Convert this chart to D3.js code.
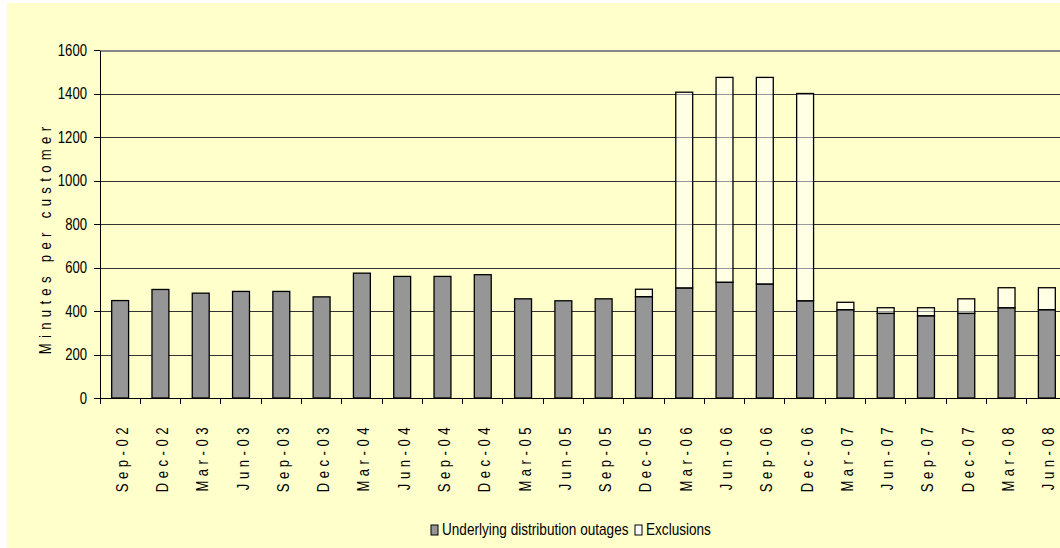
<!DOCTYPE html>
<html>
<head>
<meta charset="utf-8">
<script src="https://cdnjs.cloudflare.com/ajax/libs/d3/7.8.5/d3.min.js"></script>
<style>
    body { margin: 0; background: #fff; }
    svg text { font-family: "Liberation Sans Narrow", "Arial Narrow", "Liberation Sans", sans-serif; fill: #000; }
    .grid line { stroke: #333; stroke-width: 1; shape-rendering: crispEdges; }
    .grid path { stroke: none; }
    .axis path, .axis line { stroke: #000; shape-rendering: crispEdges; }
</style>
</head>
<body>
<div id="drawingArea"></div>
<script>
// quarter labels
var categories = ["Sep-02", "Dec-02", "Mar-03", "Jun-03", "Sep-03", "Dec-03", "Mar-04", "Jun-04",
    "Sep-04", "Dec-04", "Mar-05", "Jun-05", "Sep-05", "Dec-05", "Mar-06", "Jun-06",
    "Sep-06", "Dec-06", "Mar-07", "Jun-07", "Sep-07", "Dec-07", "Mar-08", "Jun-08"];

// minutes per customer
var underlying = [448, 499, 482, 490, 490, 465, 574, 559, 559, 567, 456, 447,
    456, 466, 506, 532, 524, 447, 406, 389, 378, 389, 415, 406];
var exclusions = [0, 0, 0, 0, 0, 0, 0, 0, 0, 0, 0, 0,
    0, 34, 900, 942, 950, 953, 34, 26, 37, 67, 92, 101];

var yTicks = [0, 200, 400, 600, 800, 1000, 1200, 1400, 1600];
var seriesNames = ["Underlying distribution outages", "Exclusions"];

// set the dimensions and margins of the graph
var margin = {top: 50, right: -7, bottom: 150, left: 100},
    width = 1060 - margin.left - margin.right,
    height = 548 - margin.top - margin.bottom;

// no narrow font installed, so squeeze the glyphs
var squeeze = 0.82;

var svg = d3.select("#drawingArea").append("svg")
    .attr("width", 1060)
    .attr("height", 548);

// chart background
svg.append("rect")
    .attr("x", 7)
    .attr("y", 3)
    .attr("width", 1060)
    .attr("height", 548)
    .attr("fill", "#ffffcc");

var g = svg.append("g")
    .attr("transform", "translate(" + margin.left + "," + margin.top + ")");

// set the ranges
var x = d3.scaleBand()
    .domain(categories)
    .range([0, width])
    .paddingInner(0.58)
    .paddingOuter(0.29);

var y = d3.scaleLinear()
    .domain([0, 1600])
    .range([height, 0]);

// stack the two series
var data = categories.map(function(c, i) {
    return {cat: c, underlying: underlying[i], exclusions: exclusions[i]};
});
var stacked = d3.stack().keys(["underlying", "exclusions"])(data);

// add the Y gridlines
g.append("g")
    .attr("class", "grid")
    .call(d3.axisLeft(y)
        .tickValues(yTicks)
        .tickSize(-width)
        .tickFormat("")
    );
g.select(".grid").selectAll("line")
    .filter(function(d) { return d === 1600; })
    .style("stroke", "#888")
    .style("stroke-width", 2);

var fills = ["#969696", "#ffffff"];
var opac = [1, 0.5];

stacked.forEach(function(layer, li) {
    g.append("g")
        .selectAll("rect")
        .data(layer.filter(function(d) { return d[1] - d[0] > 0; }))
        .enter().append("rect")
        .attr("x", function(d) { return x(d.data.cat); })
        .attr("y", function(d) { return y(d[1]); })
        .attr("width", x.bandwidth())
        .attr("height", function(d) { return y(d[0]) - y(d[1]); })
        .attr("fill", fills[li])
        .attr("fill-opacity", opac[li])
        .attr("stroke", "#000")
        .attr("stroke-width", 1.3);
});

// Add the Y Axis
g.append("g")
    .attr("class", "axis")
    .call(d3.axisLeft(y).tickValues(yTicks).tickSize(6).tickSizeOuter(0)
        .tickFormat(d3.format("d")))
    .selectAll("text")
    .style("font-size", "16px")
    .attr("transform", "scale(" + squeeze + ",1)")
    .attr("x", -13 / squeeze);

// Add the X Axis, ticks on the band boundaries
var xAxis = g.append("g")
    .attr("class", "axis")
    .attr("transform", "translate(0," + height + ")");
xAxis.append("line")
    .attr("x1", 0).attr("x2", width)
    .attr("stroke", "#000");
xAxis.selectAll(".bt")
    .data(categories)
    .enter().append("line")
    .attr("class", "bt")
    .attr("x1", function(d) { return x(d) - x.step() * x.paddingOuter(); })
    .attr("x2", function(d) { return x(d) - x.step() * x.paddingOuter(); })
    .attr("y1", 0).attr("y2", 6)
    .attr("stroke", "#000");
xAxis.selectAll("text")
    .data(categories)
    .enter().append("text")
    .attr("transform", function(d) {
        return "translate(" + (x(d) + x.bandwidth() / 2 + 7.5) + ",25) rotate(-90) scale(" + squeeze + ",1)";
    })
    .style("text-anchor", "end")
    .style("font-size", "16px")
    .style("letter-spacing", "5.5px")
    .text(function(d) { return d; });

// text label for the y axis
svg.append("text")
    .attr("transform", "translate(51,238) rotate(-90) scale(" + squeeze + ",1)")
    .style("text-anchor", "middle")
    .style("font-size", "16px")
    .style("letter-spacing", "6.5px")
    .text("Minutes per customer");

// legend
var legend = svg.append("g")
    .attr("transform", "translate(431,535)");
legend.append("rect")
    .attr("x", 0).attr("y", -10)
    .attr("width", 7).attr("height", 10)
    .attr("fill", fills[0]).attr("stroke", "#000");
legend.append("text")
    .attr("transform", "translate(11,0) scale(0.85,1)")
    .style("font-size", "16px")
    .text(seriesNames[0]);
legend.append("rect")
    .attr("x", 204).attr("y", -10)
    .attr("width", 7).attr("height", 10)
    .attr("fill", "#fff").attr("stroke", "#000");
legend.append("text")
    .attr("transform", "translate(215,0) scale(0.85,1)")
    .style("font-size", "16px")
    .text(seriesNames[1]);
</script>
</body>
</html>
